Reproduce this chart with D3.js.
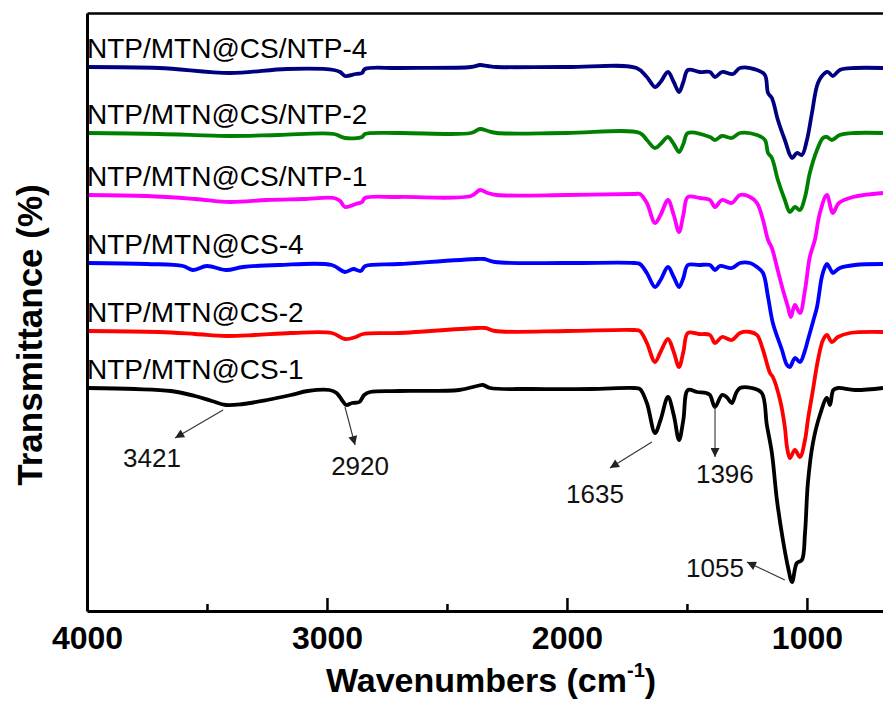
<!DOCTYPE html>
<html>
<head>
<meta charset="utf-8">
<script src="https://cdn.jsdelivr.net/npm/d3@7"></script>
<style>
  body { margin: 0; background: #fff; }
  svg { display: block; font-family: "Liberation Sans", Arial, sans-serif; }
</style>
</head>
<body>
<svg id="chart" width="883" height="704"></svg>
<script>
// FTIR spectra, [wavenumber (cm-1), transmittance (a.u., stacked offsets)]
var ntpMtnCs1 = [[4000,111.5],[3800,111],[3650,110],[3550,107.5],[3480,105],[3421,103],[3350,103.5],[3250,105.5],[3150,108],[3080,110],[2990,110.5],[2960,109],[2935,105],[2920,103],[2895,104],[2865,104.5],[2845,108],[2820,109.5],[2700,110],[2450,110.5],[2375,112.5],[2350,113],[2320,111.5],[2150,111],[1900,111],[1720,111.5],[1696,111],[1667,104],[1633,89],[1610,95.5],[1579,107],[1555,98],[1533,85.5],[1515,95.5],[1496,110.5],[1458,109.5],[1420,109],[1404,108],[1383,102],[1354,108],[1335,107],[1313,104],[1295,109],[1279,111.5],[1230,111.5],[1188,109],[1167,93],[1146,79],[1125,55.5],[1100,35.5],[1079,22],[1062,14.5],[1042,24],[1021,25.5],[1008,39],[996,64],[975,84],[946,98],[917,106.5],[904,103],[890,110.5],[870,111.5],[800,110.5],[683,111.5]];
var ntpMtnCs2 = [[4000,140],[3700,139.5],[3550,138.5],[3420,137.5],[3300,138],[3150,139],[2980,139],[2925,136],[2880,137],[2850,138.5],[2700,139],[2375,141.5],[2340,141.5],[2300,140],[2000,140],[1720,140.5],[1696,140],[1667,134],[1633,124.5],[1610,129.5],[1579,136],[1555,129.5],[1533,122],[1515,129.5],[1496,139],[1450,138.5],[1404,138],[1383,134],[1354,137],[1313,135.5],[1279,139],[1237,139.5],[1208,138],[1183,130.5],[1154,119],[1142,117],[1112,105.5],[1092,92],[1083,82],[1071,76.5],[1050,80.5],[1029,77],[1008,85.5],[996,95.5],[975,110.5],[954,125.5],[933,135.5],[917,138],[896,134.5],[871,137],[821,139],[683,139.5]];
var ntpMtnCs4 = [[4000,174],[3750,173.5],[3600,172.5],[3560,170.5],[3500,172.5],[3420,170.5],[3350,172],[3200,173],[2980,173],[2925,169.5],[2890,171],[2860,170],[2840,172.5],[2700,173.5],[2375,176],[2345,176],[2300,174.5],[2000,174],[1720,174],[1696,173.5],[1667,169],[1633,162],[1610,165.5],[1579,172],[1555,167],[1533,162],[1515,166.5],[1496,173],[1450,173],[1404,173],[1383,170.5],[1363,172.5],[1313,171.5],[1279,174],[1237,174],[1208,172],[1183,169],[1162,157],[1142,144],[1104,130.5],[1083,123],[1071,122],[1050,126.5],[1029,124.5],[1010,129.5],[996,135.5],[975,144.5],[958,152],[938,167],[925,172],[917,173.5],[905,171.5],[892,169],[875,170.5],[863,171.5],[800,173],[683,173.5]];
var ntpMtnCsNtp1 = [[4000,208],[3750,207.5],[3550,206],[3404,204.5],[3250,205.5],[3100,206],[2971,206.5],[2945,205],[2925,202],[2880,203.5],[2854,204.5],[2842,206.5],[2700,207],[2400,207.5],[2362,210.5],[2330,209],[2292,208],[2000,208],[1720,208.5],[1696,208.5],[1667,204],[1633,194],[1610,198],[1579,205.5],[1555,198],[1533,189.5],[1515,198],[1496,207],[1446,206.5],[1404,205.5],[1383,202],[1354,205.5],[1313,204],[1279,208],[1237,207],[1208,204],[1183,195.5],[1162,185.5],[1146,181.5],[1125,172],[1100,160.5],[1079,152],[1067,147],[1050,153],[1029,149],[1008,160.5],[988,177],[967,185.5],[946,199],[917,208],[892,199],[867,204],[808,207],[683,209]];
var ntpMtnCsNtp2 = [[4000,239],[3700,238.5],[3404,237.5],[3200,238],[2971,238.5],[2925,236.5],[2854,237],[2842,238.5],[2700,239],[2400,239],[2362,241],[2330,240],[2292,239],[2000,239],[1696,239],[1667,235.5],[1633,231.5],[1610,233.5],[1579,237],[1555,233.5],[1533,229.5],[1515,233.5],[1496,239],[1404,237],[1383,235.5],[1354,237.5],[1313,236.5],[1279,239],[1208,238],[1175,235.5],[1162,229],[1146,226.5],[1121,215.5],[1092,205.5],[1071,199.5],[1050,202],[1029,200.5],[1008,207],[988,219],[958,230.5],[933,236.5],[917,237],[896,235.5],[863,238],[800,239],[683,239]];
var ntpMtnCsNtp4 = [[4000,272],[3700,271.5],[3404,269],[3167,271],[2971,270.5],[2945,269.5],[2925,267.5],[2880,268.5],[2854,269],[2842,271],[2700,271.5],[2400,272],[2362,273],[2330,272.5],[2292,272],[2000,272],[1710,271.5],[1667,267],[1633,262],[1610,264.5],[1579,269.5],[1555,264.5],[1533,259.5],[1515,264.5],[1496,270.5],[1446,269.5],[1404,269.5],[1383,267],[1354,269.5],[1308,268.5],[1279,271.5],[1208,270.5],[1175,268],[1162,259],[1146,256.5],[1121,245.5],[1092,235.5],[1062,226.5],[1042,229],[1021,228],[1000,235.5],[979,249],[954,264],[925,269],[912,269.5],[892,267.5],[863,270.5],[800,271.5],[683,271.5]];

var seriesNames = ["NTP/MTN@CS-1", "NTP/MTN@CS-2", "NTP/MTN@CS-4", "NTP/MTN@CS/NTP-1", "NTP/MTN@CS/NTP-2", "NTP/MTN@CS/NTP-4"];
var seriesData = [ntpMtnCs1, ntpMtnCs2, ntpMtnCs4, ntpMtnCsNtp1, ntpMtnCsNtp2, ntpMtnCsNtp4];
var seriesColors = ["#000000", "#ff0000", "#0000ff", "#ff00ff", "#008000", "#000080"];

// peak annotations: label, arrow start [wn, T], arrow end [wn, T], label anchor [wn, T]
var peakLabels = ["3421", "2920", "1635", "1396", "1055"];
var arrowFrom = [[3433, 100.5], [2925, 102], [1646, 84.5], [1383, 102], [1092, 15.5]];
var arrowTo = [[3633, 86.5], [2883, 83], [1821, 71.5], [1383, 77], [1250, 24.5]];
var labelAt = [[3729, 72], [2862, 68], [1883, 54], [1342, 64], [1383, 17]];

var majorTicks = [4000, 3000, 2000, 1000];
var minorTicks = [3500, 2500, 1500];

var svg = d3.select("#chart");
var margin = {top: 13, right: 0, bottom: 93, left: 87};
var width = +svg.attr("width") - margin.left - margin.right,
    height = +svg.attr("height") - margin.top - margin.bottom;

var x = d3.scaleLinear().domain([4000, 683]).range([0, width]);
var y = d3.scaleLinear().domain([0, 299]).range([height, 0]);

var g = svg.append("g").attr("transform", "translate(" + margin.left + "," + margin.top + ")");

svg.append("defs").append("marker")
    .attr("id", "arrow")
    .attr("viewBox", "0 0 10 10")
    .attr("refX", 10).attr("refY", 5)
    .attr("markerWidth", 13).attr("markerHeight", 9)
    .attr("markerUnits", "userSpaceOnUse")
    .attr("orient", "auto")
    .append("path")
    .attr("d", "M0,0L10,5L0,10z")
    .attr("fill", "#222");

var line = d3.line()
    .x(d => x(d[0]))
    .y(d => y(d[1]))
    .curve(d3.curveCatmullRom.alpha(0.5));

g.selectAll(".spectrum")
    .data(seriesData)
    .enter().append("path")
    .attr("class", "spectrum")
    .attr("fill", "none")
    .attr("stroke", (d, i) => seriesColors[i])
    .attr("stroke-width", 3.8)
    .attr("stroke-linejoin", "round")
    .attr("d", line);

// series labels sit just above each trace's baseline
g.selectAll(".series-label")
    .data(seriesNames)
    .enter().append("text")
    .attr("class", "series-label")
    .attr("x", 0)
    .attr("y", (d, i) => y(seriesData[i][0][1]) - 9)
    .attr("font-size", 28)
    .attr("fill", "#000")
    .text(d => d);

// peak arrows
g.selectAll(".peak-arrow")
    .data(peakLabels)
    .enter().append("line")
    .attr("class", "peak-arrow")
    .attr("x1", (d, i) => x(arrowFrom[i][0]))
    .attr("y1", (d, i) => y(arrowFrom[i][1]))
    .attr("x2", (d, i) => x(arrowTo[i][0]))
    .attr("y2", (d, i) => y(arrowTo[i][1]))
    .attr("stroke", "#333")
    .attr("stroke-width", 1.1)
    .attr("marker-end", "url(#arrow)");

g.selectAll(".peak-label")
    .data(peakLabels)
    .enter().append("text")
    .attr("class", "peak-label")
    .attr("x", (d, i) => x(labelAt[i][0]))
    .attr("y", (d, i) => y(labelAt[i][1]))
    .attr("text-anchor", "middle")
    .attr("font-size", 26)
    .attr("fill", "#111")
    .text(d => d);

// axes: ticks point inward
var xAxisG = g.append("g")
    .attr("transform", "translate(0," + height + ")")
    .call(d3.axisBottom(x).tickValues(majorTicks).tickSizeInner(-13).tickSizeOuter(0).tickPadding(15).tickFormat(d3.format("d")));
xAxisG.select(".domain").attr("stroke-width", 3);
xAxisG.selectAll(".tick line").attr("stroke-width", 2.5);
xAxisG.selectAll(".tick text")
    .attr("font-size", 32)
    .attr("font-weight", "bold")
    .attr("font-family", "'Liberation Sans', Arial, sans-serif")
    .attr("fill", "#000");

var minorG = g.append("g")
    .attr("transform", "translate(0," + height + ")")
    .call(d3.axisBottom(x).tickValues(minorTicks).tickSizeInner(-7).tickSizeOuter(0).tickFormat(""));
minorG.select(".domain").remove();
minorG.selectAll(".tick line").attr("stroke-width", 2.5);

var yAxisG = g.append("g")
    .call(d3.axisLeft(y).tickValues([]).tickSizeOuter(0));
yAxisG.select(".domain").attr("stroke-width", 3);

var topG = g.append("g")
    .call(d3.axisTop(x).tickValues([]).tickSizeOuter(0));
topG.select(".domain").attr("stroke-width", 2.5);

// axis titles
var xTitle = svg.append("text")
    .attr("x", 491)
    .attr("y", 692)
    .attr("text-anchor", "middle")
    .attr("font-size", 34)
    .attr("font-weight", "bold");
xTitle.append("tspan").text("Wavenumbers (cm");
xTitle.append("tspan").attr("font-size", 20).attr("dy", -15).text("-1");
xTitle.append("tspan").attr("dy", 15).text(")");

svg.append("text")
    .attr("transform", "translate(42,335) rotate(-90)")
    .attr("text-anchor", "middle")
    .attr("font-size", 35)
    .attr("font-weight", "bold")
    .text("Transmittance (%)");
</script>
</body>
</html>
